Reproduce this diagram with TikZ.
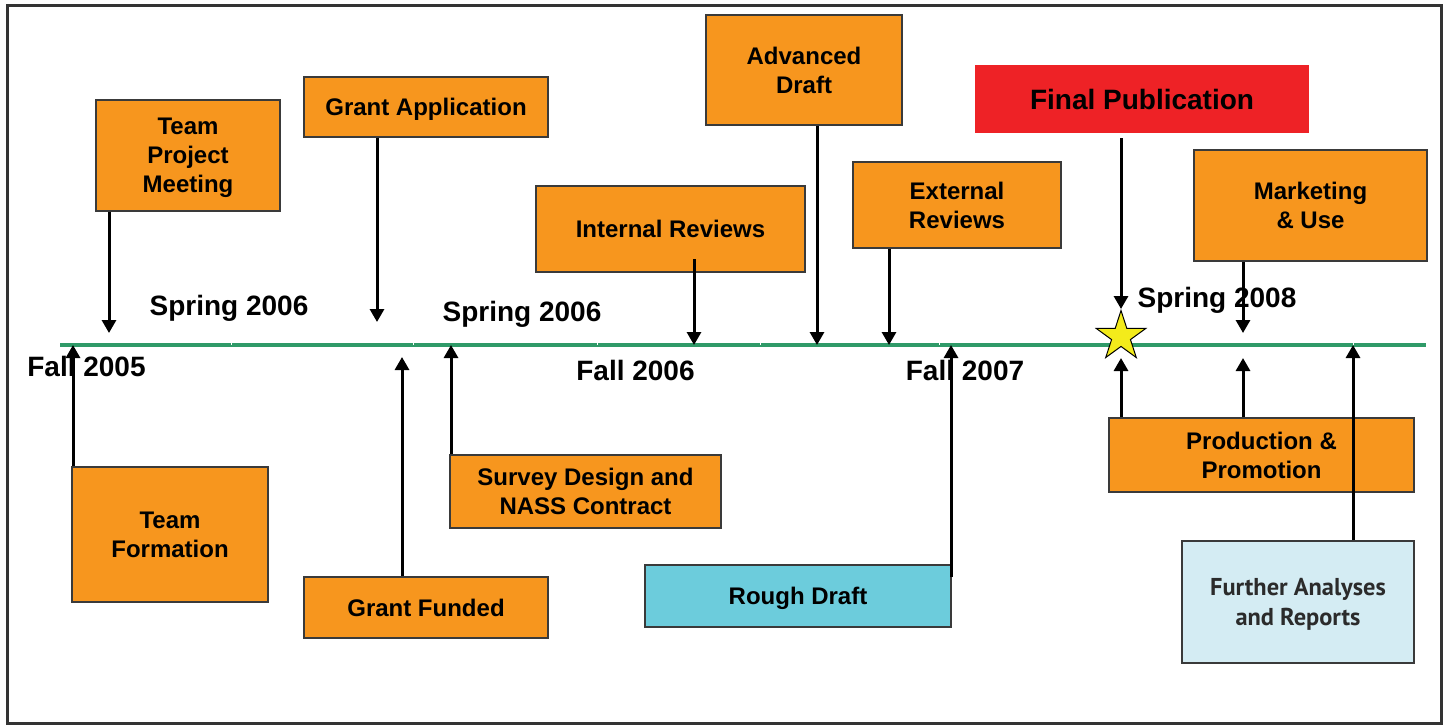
\documentclass[tikz,border=0pt]{standalone}
\usepackage{fontspec}
\setmainfont{Liberation Sans}
\newfontfamily\ptsans{PT Sans}
\usetikzlibrary{arrows.meta,shapes.geometric}
\definecolor{boxorange}{HTML}{F7961E}
\definecolor{boxedge}{HTML}{3A3A3A}
\definecolor{pubred}{HTML}{EE2226}
\definecolor{roughcyan}{HTML}{6CCCDC}
\definecolor{paleblue}{HTML}{D4ECF3}
\definecolor{linegreen}{HTML}{2F9A68}
\definecolor{staryellow}{HTML}{F3EB1B}
\definecolor{framegray}{HTML}{333333}
\definecolor{softtext}{HTML}{2B2B2B}
\begin{document}
\begin{tikzpicture}[x=0.5pt,y=-0.5pt,
  basebox/.style={draw=boxedge, line width=0.7pt, inner sep=0pt, align=center, text depth=0pt,
    font=\fontsize{12}{14.5}\selectfont\bfseries},
  obox/.style={basebox, fill=boxorange},
  lbl/.style={anchor=base, inner sep=0pt, font=\fontsize{14}{16}\selectfont\bfseries},
  arr/.style={line width=1.5pt, -{Triangle[width=7pt,length=6.5pt]}}]
\useasboundingbox (0,0) rectangle (1449,725);
% frame
\draw[framegray, line width=1.5pt] (7,5) rectangle (1441,723);
% timeline
\coordinate (tlA) at (60,345);
\coordinate (tlB) at (1426,345);
\draw[linegreen, line width=2pt] (tlA) -- (tlB);
\foreach \x in {231,413,597,760,939,1353}
  \draw[white, line width=0.5pt] (\x,342.5) -- (\x,345);
% labels
\node[lbl] (l1) at (86.5,376) {Fall 2005};
\node[lbl] (l2) at (229,315) {Spring 2006};
\node[lbl] (l3) at (522,321) {Spring 2006};
\node[lbl] (l4) at (635.5,380) {Fall 2006};
\node[lbl] (l5) at (965,380) {Fall 2007};
\node[lbl] (l6) at (1217,307) {Spring 2008};
% boxes
\node[obox, minimum width=92pt, minimum height=55.5pt] (tpm) at (188,155.5) {Team\\Project\\Meeting};
\node[obox, minimum width=122pt, minimum height=30pt] (ga) at (426,107) {Grant Application};
\node[obox, minimum width=98pt, minimum height=55pt] (ad) at (804,70) {Advanced\\Draft};
\node[basebox, draw=none, fill=pubred, minimum width=167pt, minimum height=34pt,
  font=\fontsize{14}{16}\selectfont\bfseries] (fp) at (1142,99) {Final Publication};
\node[obox, minimum width=134.5pt, minimum height=43pt] (ir) at (670.5,229) {Internal Reviews};
\node[obox, minimum width=104pt, minimum height=43pt] (er) at (957,205) {External\\Reviews};
\node[obox, minimum width=116.5pt, minimum height=55.5pt] (mu) at (1310.5,205.5) {Marketing\\\& Use};
\node[obox, minimum width=98pt, minimum height=67.5pt] (tf) at (170,534.5) {Team\\Formation};
\node[obox, minimum width=122pt, minimum height=30.5pt] (gf) at (426,607.5) {Grant Funded};
\node[obox, minimum width=135.5pt, minimum height=36.5pt] (sd) at (585.5,491.5) {Survey Design and\\NASS Contract};
\node[basebox, fill=roughcyan, minimum width=153pt, minimum height=31pt] (rd) at (798,596) {Rough Draft};
\node[obox, minimum width=152.5pt, minimum height=37pt] (pp) at (1261.5,455) {Production \&\\Promotion};
\node[basebox, fill=paleblue, text=softtext, minimum width=116pt, minimum height=61pt,
  font=\ptsans\fontsize{12.2}{15}\selectfont\bfseries] (fa) at (1298,602) {Further Analyses\\and Reports};
% star
\node[star, star points=5, star point ratio=2.618, minimum size=26pt, inner sep=0pt,
  draw=black, line width=0.5pt, fill=staryellow] (st) at (1121,336.5) {};
% arrow end points on the timeline
\coordinate (e1) at (109,333);
\coordinate (e2) at (377,322);
\coordinate (e3) at (694,345);
\coordinate (s3) at (694,259);
\coordinate (e4) at (817,345);
\coordinate (e5) at (889,345);
\coordinate (e6) at (1121,309);
\coordinate (s6) at (1121,138);
\coordinate (e7) at (1243,333);
\coordinate (u1) at (73,345);
\coordinate (u2) at (402,357);
\coordinate (u3) at (451,345);
\coordinate (u4) at (951,345);
\coordinate (s4) at (951,577);
\coordinate (u5) at (1121,358);
\coordinate (u6) at (1243,358);
\coordinate (u7) at (1353,345);
% downward arrows
\draw[arr] (tpm.south -| e1) -- (e1);
\draw[arr] (ga.south -| e2) -- (e2);
\draw[arr] (s3) -- (e3);
\draw[arr] (ad.south -| e4) -- (e4);
\draw[arr] (er.south -| e5) -- (e5);
\draw[arr] (s6) -- (e6);
\draw[arr] (mu.south -| e7) -- (e7);
% upward arrows
\draw[arr] (tf.north -| u1) -- (u1);
\draw[arr] (gf.north -| u2) -- (u2);
\draw[arr] (sd.north -| u3) -- (u3);
\draw[arr] (s4) -- (u4);
\draw[arr] (pp.north -| u5) -- (u5);
\draw[arr] (pp.north -| u6) -- (u6);
\draw[arr] (fa.north -| u7) -- (u7);
\end{tikzpicture}
\end{document}
